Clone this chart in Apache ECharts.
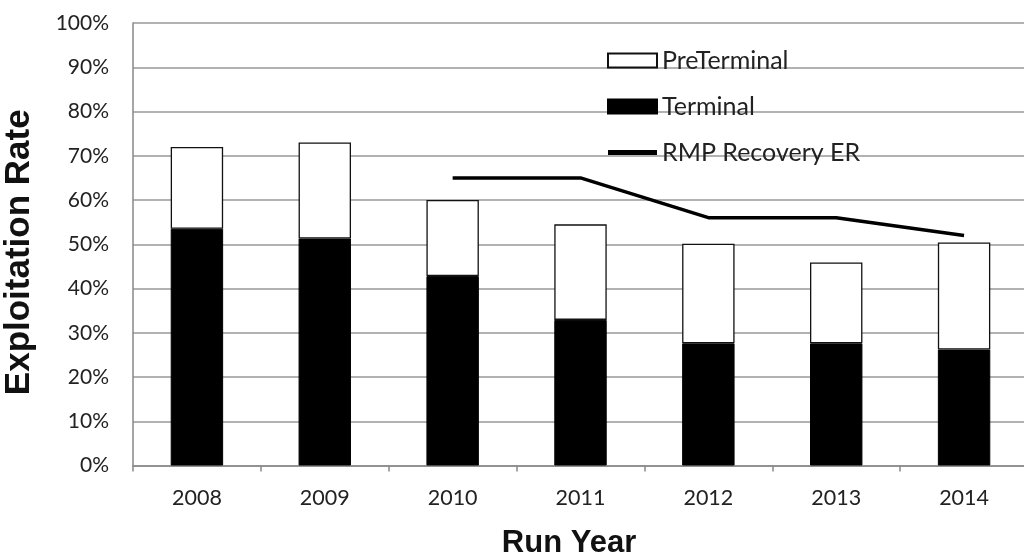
<!DOCTYPE html>
<html><head><meta charset="utf-8">
<script src="https://cdn.jsdelivr.net/npm/echarts@6/dist/echarts.min.js"></script>
<style>html,body{margin:0;padding:0;background:#fff}#c{width:1024px;height:557px}</style>
</head><body><div id="c"></div>
<script>
var years = ['2008','2009','2010','2011','2012','2013','2014'];
var terminal = [53.5, 51.3, 42.8, 32.9, 27.6, 27.6, 26.2];
var preTerminal = [18.5, 21.7, 17.2, 21.6, 22.5, 18.3, 24.2];
var rmpRecoveryER = [null, null, 65, 65, 56, 56, 52];
var yTicks = [0,10,20,30,40,50,60,70,80,90,100];

var chart = echarts.init(document.getElementById('c'), null, {renderer:'canvas'});
var font = 'Lato, "Open Sans", sans-serif';
chart.setOption({
  animation:false,
  backgroundColor:'#fff',
  grid:{left:133, top:23, width:895, height:442.5, containLabel:false, outerBoundsMode:'none'},
  legend:{
    orient:'vertical', left:607, top:48, padding:0,
    itemWidth:49, itemHeight:14, itemGap:21,
    data:[
      {name:'PreTerminal', icon:'rect'},
      {name:'Terminal', icon:'rect'},
      {name:'RMP Recovery ER', icon:'path://M0,0H10V1H0Z'}
    ],
    textStyle:{fontFamily:font, fontSize:25, color:'#222', lineHeight:25},
    selectedMode:false
  },
  xAxis:{
    type:'category', data:years,
    axisLine:{lineStyle:{color:'#888', width:1.5}},
    axisTick:{show:true, length:6, lineStyle:{color:'#888', width:1.5}},
    axisLabel:{fontFamily:font, fontSize:21.5, color:'#222', margin:22},
    name:'Run Year', nameLocation:'middle', nameGap:62,
    nameTextStyle:{fontFamily:'"Liberation Sans", Arial, sans-serif', fontWeight:'bold', fontSize:31, color:'#111', padding:[0,23,0,0]}
  },
  yAxis:{
    type:'value', min:0, max:100, interval:10,
    axisLine:{show:true, lineStyle:{color:'#888', width:1.5}},
    axisTick:{show:false},
    splitLine:{lineStyle:{color:'#999', width:1.5}},
    axisLabel:{fontFamily:font, fontSize:21, color:'#222', margin:24,
      formatter:function(v){return yTicks.indexOf(v)>=0 ? v+'%' : '';}},
    name:'Exploitation Rate', nameLocation:'middle', nameGap:96,
    nameTextStyle:{fontFamily:'"Liberation Sans", Arial, sans-serif', fontWeight:'bold', fontSize:35, color:'#111', padding:[0,16,0,0]}
  },
  series:[
    {name:'Terminal', type:'bar', stack:'er', data:terminal, barWidth:'41%',
     itemStyle:{color:'#000', borderColor:'#000', borderWidth:1}},
    {name:'PreTerminal', type:'bar', stack:'er', data:preTerminal, barWidth:'41%',
     itemStyle:{color:'#fff', borderColor:'#111', borderWidth:1.3}},
    {name:'RMP Recovery ER', type:'line', data:rmpRecoveryER, symbol:'none',
     lineStyle:{color:'#000', width:3.5}, itemStyle:{color:'#000'}, z:5}
  ]
});
</script></body></html>
